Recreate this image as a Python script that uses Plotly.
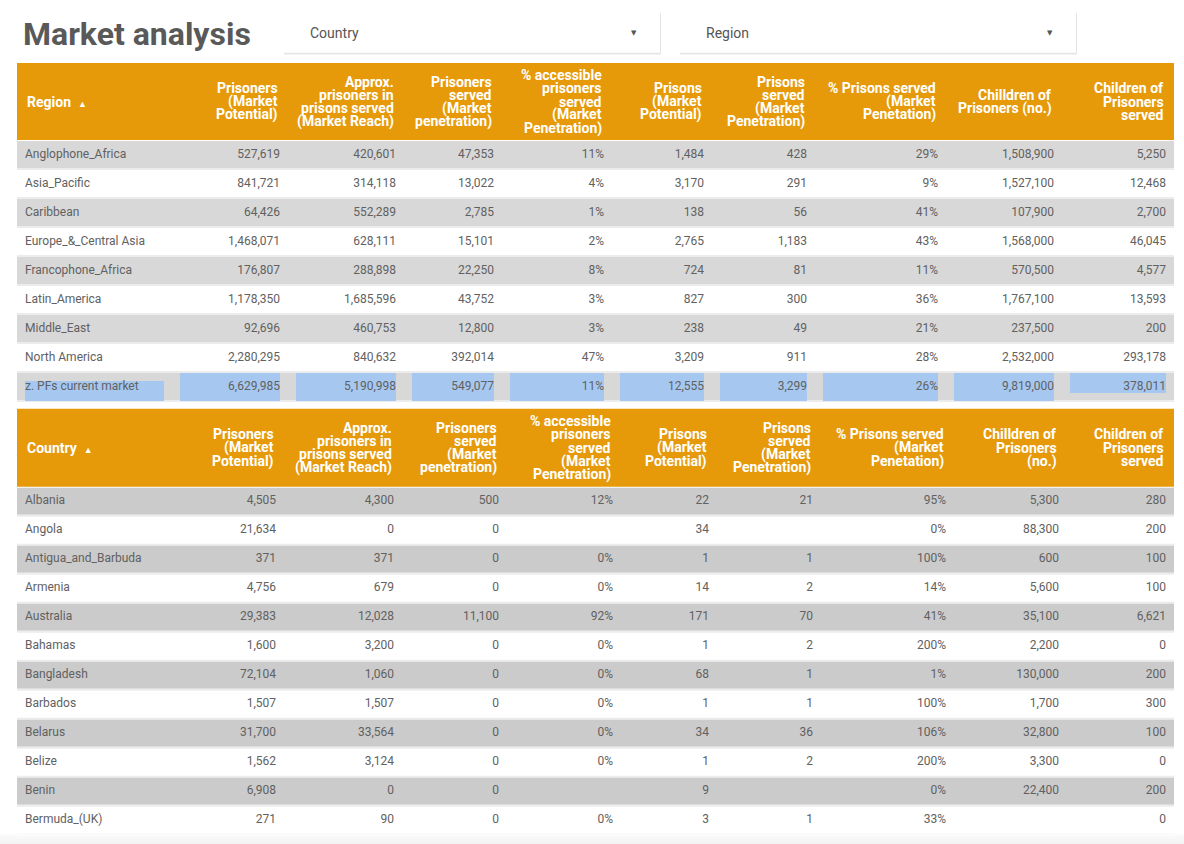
import plotly.graph_objects as go

# ---------------- data: market by region ----------------
regions = ["Anglophone_Africa", "Asia_Pacific", "Caribbean", "Europe_&_Central Asia",
           "Francophone_Africa", "Latin_America", "Middle_East", "North America",
           "z. PFs current market"]
reg_prisoners = [527619, 841721, 64426, 1468071, 176807, 1178350, 92696, 2280295, 6629985]
reg_reach = [420601, 314118, 552289, 628111, 288898, 1685596, 460753, 840632, 5190998]
reg_served = [47353, 13022, 2785, 15101, 22250, 43752, 12800, 392014, 549077]
reg_pct_access = [11, 4, 1, 2, 8, 3, 3, 47, 11]
reg_prisons = [1484, 3170, 138, 2765, 724, 827, 238, 3209, 12555]
reg_prisons_served = [428, 291, 56, 1183, 81, 300, 49, 911, 3299]
reg_pct_prisons = [29, 9, 41, 43, 11, 36, 21, 28, 26]
reg_children = [1508900, 1527100, 107900, 1568000, 570500, 1767100, 237500, 2532000, 9819000]
reg_children_served = [5250, 12468, 2700, 46045, 4577, 13593, 200, 293178, 378011]

# ---------------- data: market by country ----------------
countries = ["Albania", "Angola", "Antigua_and_Barbuda", "Armenia", "Australia", "Bahamas",
             "Bangladesh", "Barbados", "Belarus", "Belize", "Benin", "Bermuda_(UK)"]
cty_prisoners = [4505, 21634, 371, 4756, 29383, 1600, 72104, 1507, 31700, 1562, 6908, 271]
cty_reach = [4300, 0, 371, 679, 12028, 3200, 1060, 1507, 33564, 3124, 0, 90]
cty_served = [500, 0, 0, 0, 11100, 0, 0, 0, 0, 0, 0, 0]
cty_pct_access = [12, None, 0, 0, 92, 0, 0, 0, 0, 0, None, 0]
cty_prisons = [22, 34, 1, 14, 171, 1, 68, 1, 34, 1, 9, 3]
cty_prisons_served = [21, None, 1, 2, 70, 2, 1, 1, 36, 2, None, 1]
cty_pct_prisons = [95, 0, 100, 14, 41, 200, 1, 100, 106, 200, 0, 33]
cty_children = [5300, 88300, 600, 5600, 35100, 2200, 130000, 1700, 32800, 3300, 22400, None]
cty_children_served = [280, 200, 100, 100, 6621, 0, 200, 300, 100, 0, 200, 0]

# column headings (one entry per printed line)
region_headers = [
    ["Prisoners", "(Market", "Potential)"],
    ["Approx.", "prisoners in", "prisons served", "(Market Reach)"],
    ["Prisoners", "served", "(Market", "penetration)"],
    ["% accessible", "prisoners", "served", "(Market", "Penetration)"],
    ["Prisons", "(Market", "Potential)"],
    ["Prisons", "served", "(Market", "Penetration)"],
    ["% Prisons served", "(Market", "Penetation)"],
    ["Chilldren of", "Prisoners (no.)"],
    ["Children of", "Prisoners", "served"],
]
country_headers = [
    ["Prisoners", "(Market", "Potential)"],
    ["Approx.", "prisoners in", "prisons served", "(Market Reach)"],
    ["Prisoners", "served", "(Market", "penetration)"],
    ["% accessible", "prisoners", "served", "(Market", "Penetration)"],
    ["Prisons", "(Market", "Potential)"],
    ["Prisons", "served", "(Market", "Penetration)"],
    ["% Prisons served", "(Market", "Penetation)"],
    ["Chilldren of", "Prisoners", "(no.)"],
    ["Children of", "Prisoners", "served"],
]
col_kinds = ["n", "n", "n", "p", "n", "n", "p", "n", "n"]

# ---------------- styling / layout constants (pixels) ----------------
W, H = 1184, 844
ORANGE = "#E69A0A"
BLUE = "#A6C8F0"
TEXT_GREY = "#616161"
ROW_H = 29
PAD = 8
LINE_GAP = 13.3
HEAD_FONT = dict(family="Roboto", size=14, color="white", weight="bold")
CELL_FONT = dict(family="Roboto", size=12, color=TEXT_GREY)

region_edges = [17, 172, 288, 404, 502, 612, 712, 815, 946, 1062, 1174]
country_edges = [17, 167, 284, 402, 507, 621, 717, 821, 954, 1067, 1174]


def fmt(v, kind):
    if v is None:
        return ""
    return f"{v}%" if kind == "p" else f"{v:,}"


fig = go.Figure()


def add_table(top, header_h, title, labels, columns, headers, edges, band, highlight_last=False):
    left, right = edges[0], edges[-1]
    body_top = top + header_h
    hc = top + header_h / 2

    # header
    fig.add_shape(type="rect", x0=left, x1=right, y0=top, y1=body_top,
                  fillcolor=ORANGE, line_width=0, layer="below")
    fig.add_annotation(x=left + PAD, y=hc, xanchor="left", yanchor="middle", showarrow=False,
                       text=f"{title}&nbsp;&nbsp;<span style='font-size:9px'>▲</span>",
                       font=HEAD_FONT)
    for j, lines in enumerate(headers):
        xr = edges[j + 2] - PAD
        k = len(lines)
        for i, line in enumerate(lines):
            fig.add_annotation(x=xr, y=hc + (i - (k - 1) / 2) * LINE_GAP, text=line,
                               xanchor="right", yanchor="middle", showarrow=False,
                               font=HEAD_FONT)

    # row bands and separators
    n = len(labels)
    centers = []
    for i in range(n):
        y0 = body_top + i * ROW_H
        if i % 2 == 0:
            fig.add_shape(type="rect", x0=left, x1=right, y0=y0 + 1, y1=y0 + ROW_H - 1,
                          fillcolor=band, line_width=0, layer="below")
        fig.add_shape(type="line", x0=left, x1=right, y0=y0 + ROW_H, y1=y0 + ROW_H,
                      line=dict(color="#ECECEC", width=2), layer="below")
        centers.append(y0 + ROW_H / 2)

    # selection highlight on the last (total) row
    if highlight_last:
        y0 = body_top + (n - 1) * ROW_H
        ncol = len(edges) - 1
        for c in range(ncol):
            top_off = 9 if c == 0 else 1
            bot_off = 8 if c == ncol - 1 else 0
            fig.add_shape(type="rect", x0=edges[c] + PAD, x1=edges[c + 1] - PAD,
                          y0=y0 + top_off, y1=y0 + ROW_H - bot_off,
                          fillcolor=BLUE, line_width=0, layer="below")

    # cell text
    fig.add_trace(go.Scatter(x=[left + PAD] * n, y=centers, text=labels, mode="text",
                             textposition="middle right", textfont=CELL_FONT,
                             hoverinfo="skip", cliponaxis=False))
    for j, (vals, kind) in enumerate(zip(columns, col_kinds)):
        fig.add_trace(go.Scatter(x=[edges[j + 2] - PAD] * n, y=centers,
                                 text=[fmt(v, kind) for v in vals], mode="text",
                                 textposition="middle left", textfont=CELL_FONT,
                                 hoverinfo="skip", cliponaxis=False))


add_table(63, 77, "Region", regions,
          [reg_prisoners, reg_reach, reg_served, reg_pct_access, reg_prisons,
           reg_prisons_served, reg_pct_prisons, reg_children, reg_children_served],
          region_headers, region_edges, "#D8D8D8", highlight_last=True)
add_table(408.7, 78, "Country", countries,
          [cty_prisoners, cty_reach, cty_served, cty_pct_access, cty_prisons,
           cty_prisons_served, cty_pct_prisons, cty_children, cty_children_served],
          country_headers, country_edges, "#CBCBCB")

# page title
fig.add_annotation(x=21, y=34, xanchor="left", yanchor="middle", showarrow=False,
                   text="Market analysis",
                   font=dict(family="Roboto", size=32, color="#595959", weight="bold"))

# filter dropdowns
for x0, x1, label in [(284, 660, "Country"), (680, 1076, "Region")]:
    fig.add_shape(type="rect", x0=x0, x1=x1 + 1, y0=13, y1=54.5,
                  fillcolor="rgba(0,0,0,0.10)", line_width=0, layer="below")
    fig.add_shape(type="rect", x0=x0, x1=x1, y0=12.7, y1=52.7,
                  fillcolor="white", line_width=0, layer="below")
    fig.add_annotation(x=x0 + 24, y=33, xanchor="left", yanchor="middle", showarrow=False,
                       text=label, font=dict(family="Roboto", size=14, color="#555555"))
    fig.add_annotation(x=x1 - 26.5, y=33, xanchor="center", yanchor="middle", showarrow=False,
                       text="▼", font=dict(family="DejaVu Sans", size=7, color="#555555"))

# soft fade at the bottom of the page
for k, col in enumerate(["#FBFBFB", "#F8F8F8", "#F6F6F6", "#F4F4F4"]):
    fig.add_shape(type="rect", x0=0, x1=W, y0=834 + k * 2.5, y1=H,
                  fillcolor=col, line_width=0, layer="below")

fig.update_layout(
    width=W, height=H,
    margin=dict(l=0, r=0, t=0, b=0),
    paper_bgcolor="white", plot_bgcolor="white",
    showlegend=False,
    xaxis=dict(range=[0, W], visible=False, fixedrange=True),
    yaxis=dict(range=[H, 0], visible=False, fixedrange=True),
)

# page body has a default margin; remove it so the figure fills the window
fig.write_html("out.html", config={"displayModeBar": False},
               post_script="document.body.style.margin='0';")
